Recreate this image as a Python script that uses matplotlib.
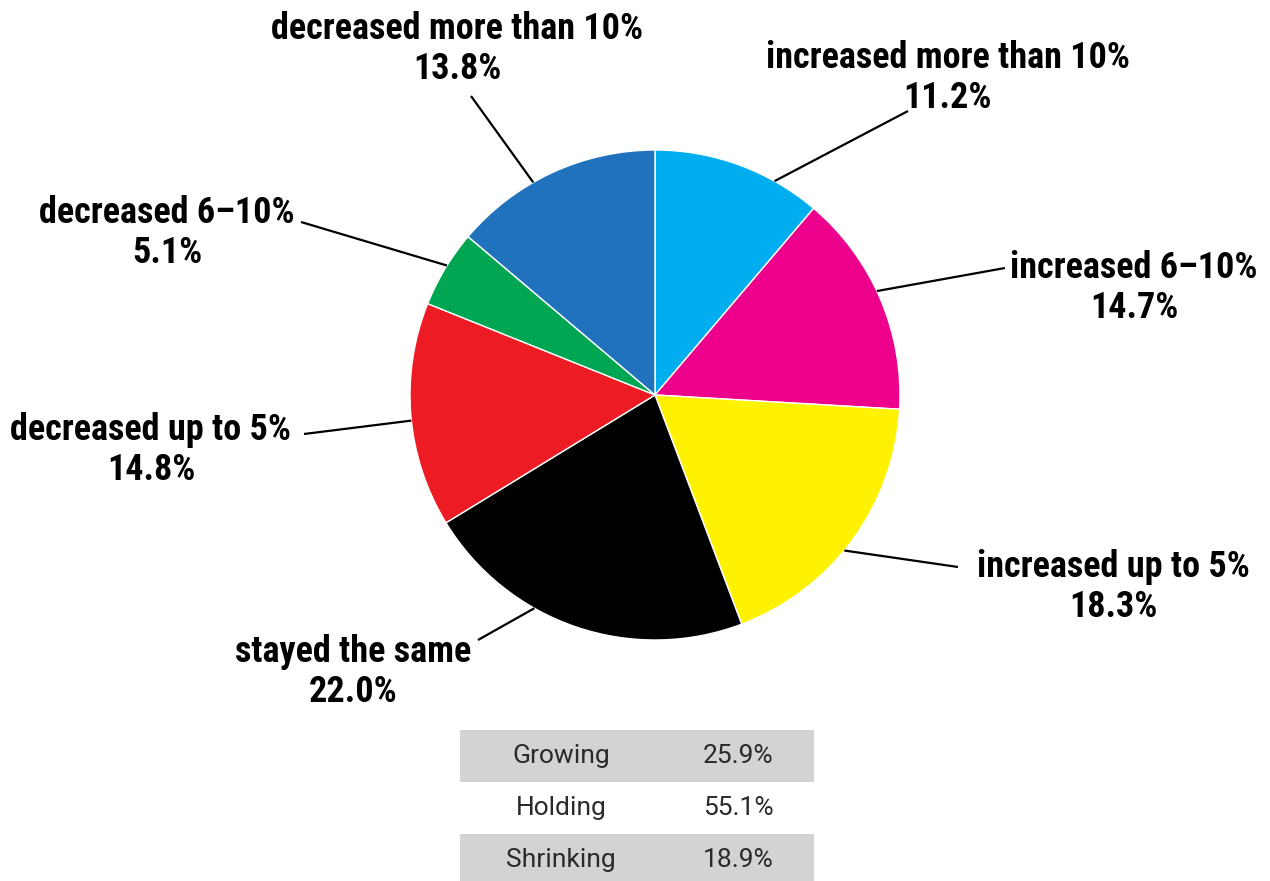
import numpy as np
import matplotlib.pyplot as plt

# Slice data, clockwise from 12 o'clock
categories = ['increased more than 10%', 'increased 6–10%', 'increased up to 5%',
              'stayed the same', 'decreased up to 5%', 'decreased 6–10%',
              'decreased more than 10%']
shares = [11.2, 14.7, 18.3, 22.0, 14.8, 5.1, 13.8]
colors = ['#00aeef', '#ec008c', '#fff200', '#000000', '#ed1c24', '#00a651', '#1f72bb']

# Summary table
groups = ['Growing', 'Holding', 'Shrinking']
group_shares = [25.9, 55.1, 18.9]

W, H = 1270, 881
fig = plt.figure(figsize=(W / 100, H / 100), dpi=100)
ax = fig.add_axes([0, 0, 1, 1])


def py(y):
    # pixel rows are counted from the top
    return H - y


cx, cy, R = 655, py(395), 245
ax.pie(shares, colors=colors, startangle=90, counterclock=False,
       center=(cx, cy), radius=R, frame=True,
       wedgeprops=dict(edgecolor='white', linewidth=1))
ax.set_xlim(0, W)
ax.set_ylim(0, H)
ax.set_aspect('equal')
ax.axis('off')

# label block centre, leader end point, angle where the leader meets the pie
label_pos = [(948, 78), (1134, 288), (1113, 587), (353, 672), (151, 450), (167, 233), (457, 49)]
line_end = [(908, 111), (1005, 268), (958, 567), (478, 640), (304, 434), (301, 222), (471, 96)]
line_angle = [60.8, 25.1, -39.4, 240.5, 186.0, 148.1, 119.8]

label_font = dict(family=['Roboto Condensed', 'Liberation Sans Narrow', 'Roboto', 'DejaVu Sans'],
                  weight='bold', size=26)
for cat, val, (lx, ly), (ex, ey), ang in zip(categories, shares, label_pos, line_end, line_angle):
    a = np.deg2rad(ang)
    sx, sy = cx + R * np.cos(a), cy + R * np.sin(a)
    ax.plot([sx, ex], [sy, py(ey)], color='black', lw=1.6, solid_capstyle='butt')
    ax.text(lx, py(ly), f'{cat}\n{val:.1f}%', ha='center', va='center',
            linespacing=1.12, **label_font)

# table rows
row_top, row_h = 730, 52
tx0, tx1 = 460, 814
table_font = dict(family=['Roboto', 'DejaVu Sans'], weight='normal', size=19, color='#2a2a2a')
for i, (g, v) in enumerate(zip(groups, group_shares)):
    top = row_top + i * row_h
    if i % 2 == 0:
        ax.add_patch(plt.Rectangle((tx0, py(top + row_h)), tx1 - tx0, row_h,
                                   facecolor='#d1d3d4', edgecolor='none'))
    yc = py(top + row_h / 2)
    ax.text(561, yc, g, ha='center', va='center', **table_font)
    ax.text(738, yc, f'{v:.1f}%', ha='center', va='center', **table_font)

fig.savefig('out.png', dpi=100)
